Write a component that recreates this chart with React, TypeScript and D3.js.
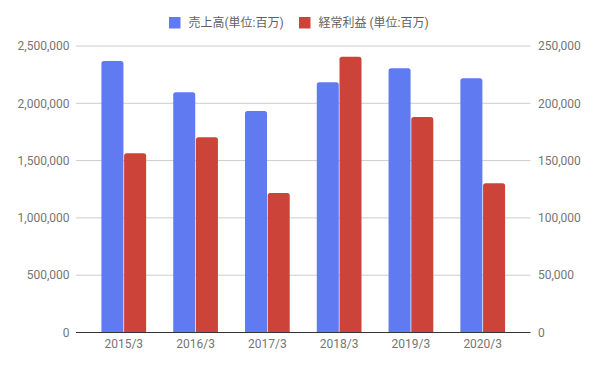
import { useEffect, useRef } from "react";
import * as d3 from "d3";

const categories = ["2015/3", "2016/3", "2017/3", "2018/3", "2019/3", "2020/3"];
const seriesNames = ["売上高(単位:百万)", "経常利益 (単位:百万)"];
const salesValues = [2369000, 2096000, 1933000, 2183000, 2305000, 2218000];
const profitValues = [156400, 170300, 121700, 240700, 188000, 130200];
const leftTicks = [0, 500000, 1000000, 1500000, 2000000, 2500000];
const rightTicks = [0, 50000, 100000, 150000, 200000, 250000];
const colors = ["#607bf2", "#cc4339"];

const W = 597;
const H = 367;
const FONT = "Roboto, 'Noto Sans CJK JP', sans-serif";

// bar with rounded top corners
const barPath = (x: number, y: number, w: number, h: number, r: number) => {
  const rr = Math.min(r, h, w / 2);
  return `M${x},${y + h}V${y + rr}Q${x},${y} ${x + rr},${y}H${x + w - rr}Q${x + w},${y} ${x + w},${y + rr}V${y + h}Z`;
};

const App = () => {
  const svgRef = useRef<SVGSVGElement>(null);

  useEffect(() => {
    const svg = d3.select(svgRef.current).attr("width", W).attr("height", H);
    svg.selectAll("*").remove();

    const left = 76;
    const right = 530.5;
    const top = 46;
    const bottom = 332.5;

    const x = d3
      .scaleBand()
      .domain(categories)
      .range([left, right])
      .paddingInner(0.377)
      .paddingOuter(0.354);

    const x1 = d3
      .scaleBand()
      .domain(["sales", "profit"])
      .range([0, x.bandwidth()])
      .paddingInner(0.03);

    const yLeft = d3.scaleLinear().domain([0, 2500000]).range([bottom, top]);
    const yRight = d3.scaleLinear().domain([0, 250000]).range([bottom, top]);
    const fmt = d3.format(",");

    // gridlines
    svg
      .append("g")
      .selectAll("line")
      .data(leftTicks.slice(1))
      .enter()
      .append("line")
      .attr("x1", left)
      .attr("x2", right)
      .attr("y1", (d) => yLeft(d))
      .attr("y2", (d) => yLeft(d))
      .attr("stroke", "#cccccc")
      .attr("stroke-width", 1);

    // left labels
    svg
      .append("g")
      .selectAll("text")
      .data(leftTicks)
      .enter()
      .append("text")
      .attr("x", 69.5)
      .attr("y", (d) => yLeft(d))
      .attr("dy", "0.35em")
      .attr("text-anchor", "end")
      .attr("font-family", FONT)
      .attr("font-size", 12)
      .attr("fill", "#757575")
      .text((d) => fmt(d));

    // right labels
    svg
      .append("g")
      .selectAll("text")
      .data(rightTicks)
      .enter()
      .append("text")
      .attr("x", 538)
      .attr("y", (d) => yRight(d))
      .attr("dy", "0.35em")
      .attr("text-anchor", "start")
      .attr("font-family", FONT)
      .attr("font-size", 12)
      .attr("fill", "#757575")
      .text((d) => fmt(d));

    // bars
    const groups = svg
      .append("g")
      .selectAll("g")
      .data(categories)
      .enter()
      .append("g")
      .attr("transform", (d) => `translate(${x(d)},0)`);

    groups
      .append("path")
      .attr("d", (d, i) => {
        const yy = yLeft(salesValues[i]);
        return barPath(x1("sales") || 0, yy, x1.bandwidth(), bottom - yy, 2.5);
      })
      .attr("fill", colors[0]);

    groups
      .append("path")
      .attr("d", (d, i) => {
        const yy = yRight(profitValues[i]);
        return barPath(x1("profit") || 0, yy, x1.bandwidth(), bottom - yy, 2.5);
      })
      .attr("fill", colors[1]);

    // baseline
    svg
      .append("line")
      .attr("x1", left)
      .attr("x2", right)
      .attr("y1", bottom)
      .attr("y2", bottom)
      .attr("stroke", "#333333")
      .attr("stroke-width", 1);

    // x labels
    svg
      .append("g")
      .selectAll("text")
      .data(categories)
      .enter()
      .append("text")
      .attr("x", (d) => (x(d) || 0) + x.bandwidth() / 2)
      .attr("y", 347.5)
      .attr("text-anchor", "middle")
      .attr("font-family", FONT)
      .attr("font-size", 12)
      .attr("fill", "#757575")
      .text((d) => d);

    // legend
    const legendX = [169, 299];
    const legend = svg
      .append("g")
      .selectAll("g")
      .data(seriesNames)
      .enter()
      .append("g")
      .attr("transform", (d, i) => `translate(${legendX[i]},17)`);

    legend
      .append("rect")
      .attr("width", 11.5)
      .attr("height", 11.5)
      .attr("fill", (d, i) => colors[i]);

    legend
      .append("text")
      .attr("x", 19.5)
      .attr("y", 5.5)
      .attr("dy", "0.35em")
      .attr("font-family", FONT)
      .attr("font-size", 12)
      .attr("fill", "#5f5f5f")
      .text((d) => d);
  }, []);

  return (
    <svg
      ref={svgRef}
      style={{ position: "absolute", left: 0, top: 0, background: "#fff" }}
    />
  );
};

export default App;
